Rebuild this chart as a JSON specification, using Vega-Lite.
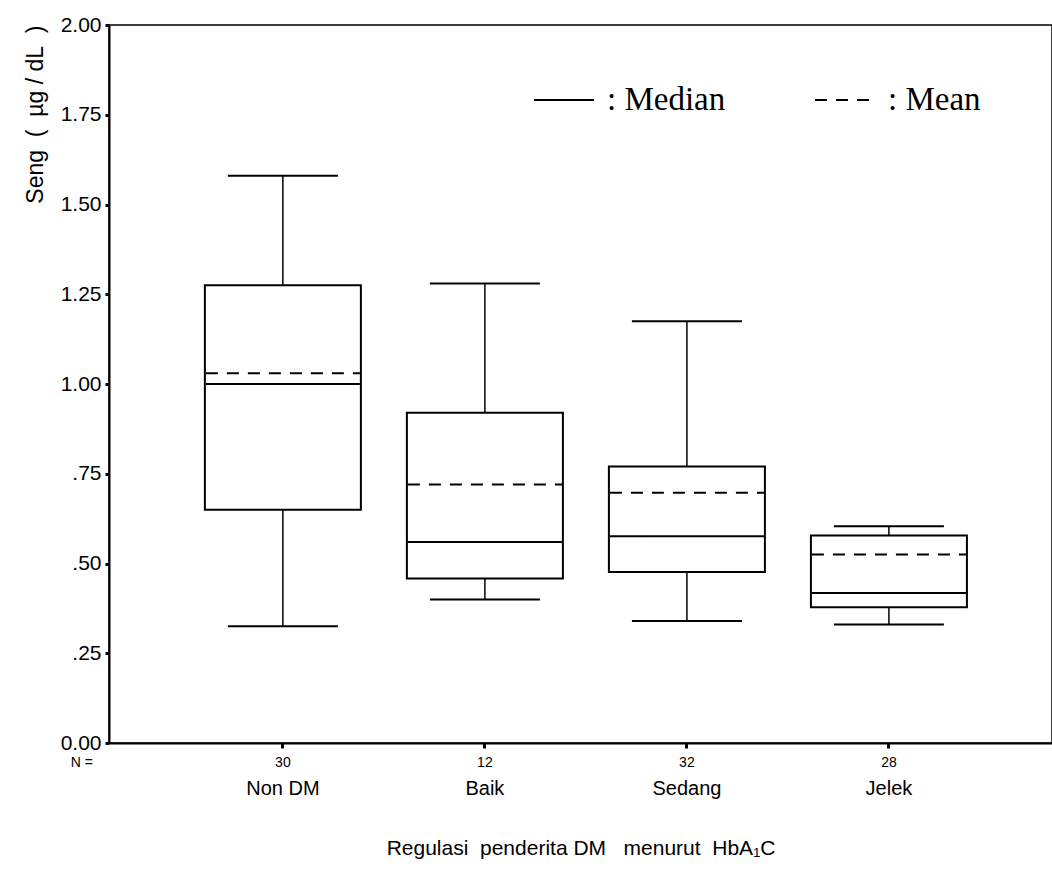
{
  "$schema": "https://vega.github.io/schema/vega-lite/v6.json",
  "autosize": {"type": "none"},
  "padding": {"left": 109, "top": 25, "right": 0, "bottom": 135},
  "width": 943,
  "height": 718,
  "background": "white",
  "config": {
    "view": {"stroke": "black", "strokeWidth": 1.5},
    "font": "Liberation Sans"
  },
  "datasets": {
    "boxes": [
      {"g": "Non DM", "n": "30", "min": 0.325, "q1": 0.65, "median": 1.0, "mean": 1.03, "q3": 1.275, "max": 1.58},
      {"g": "Baik", "n": "12", "min": 0.4, "q1": 0.458, "median": 0.56, "mean": 0.72, "q3": 0.92, "max": 1.28},
      {"g": "Sedang", "n": "32", "min": 0.34, "q1": 0.476, "median": 0.576, "mean": 0.697, "q3": 0.77, "max": 1.175},
      {"g": "Jelek", "n": "28", "min": 0.33, "q1": 0.378, "median": 0.418, "mean": 0.525, "q3": 0.578, "max": 0.604}
    ]
  },
  "data": {"name": "boxes"},
  "encoding": {
    "x": {
      "field": "g",
      "type": "nominal",
      "sort": ["Non DM", "Baik", "Sedang", "Jelek"],
      "scale": {"type": "band", "domain": ["Non DM", "Baik", "Sedang", "Jelek"], "paddingInner": 0, "paddingOuter": 0.334, "align": 0.54},
      "axis": {
        "title": "Regulasi\u00a0 penderita DM \u00a0 menurut\u00a0 HbA\u2081C",
        "titleFont": "Liberation Sans",
        "titleFontSize": 21,
        "titleFontWeight": "normal",
        "titleColor": "black",
        "titlePadding": 39,
        "labelAngle": 0,
        "labelFont": "Liberation Sans",
        "labelFontSize": 20,
        "labelColor": "black",
        "labelPadding": 30,
        "tickColor": "black",
        "tickSize": 5,
        "tickWidth": 3,
        "domainColor": "black",
        "domainWidth": 2,
        "grid": false
      }
    }
  },
  "layer": [
    {
      "mark": {"type": "rule", "color": "black", "strokeWidth": 1.5},
      "encoding": {
        "y": {
          "field": "min",
          "type": "quantitative",
          "scale": {"domain": [0, 2], "nice": false, "zero": true},
          "axis": {
            "title": "Seng\u00a0 (\u00a0 \u00b5g / dL\u00a0 )",
            "titleFont": "Liberation Sans",
            "titleFontSize": 23,
            "titleFontWeight": "normal",
            "titleColor": "black",
            "titleAnchor": "end",
            "titlePadding": 13,
            "values": [0, 0.25, 0.5, 0.75, 1, 1.25, 1.5, 1.75, 2],
            "labelExpr": "datum.value >= 1 || datum.value == 0 ? format(datum.value, '.2f') : replace(format(datum.value, '.2f'), '0.', '.')",
            "labelFont": "Liberation Sans",
            "labelFontSize": 21,
            "labelColor": "black",
            "labelPadding": 4,
            "tickColor": "black",
            "tickSize": 4,
            "tickWidth": 3,
            "domainColor": "black",
            "domainWidth": 2,
            "grid": false
          }
        },
        "y2": {"field": "max"}
      }
    },
    {
      "mark": {"type": "rule", "color": "black", "strokeWidth": 2, "xOffset": -55, "x2Offset": 55},
      "encoding": {"x2": {"field": "g"}, "y": {"field": "min", "type": "quantitative"}}
    },
    {
      "mark": {"type": "rule", "color": "black", "strokeWidth": 2, "xOffset": -55, "x2Offset": 55},
      "encoding": {"x2": {"field": "g"}, "y": {"field": "max", "type": "quantitative"}}
    },
    {
      "mark": {"type": "bar", "size": 156, "fill": "white", "stroke": "black", "strokeWidth": 2},
      "encoding": {"y": {"field": "q1", "type": "quantitative"}, "y2": {"field": "q3"}}
    },
    {
      "transform": [{"fold": ["median", "mean"], "as": ["stat", "v"]}],
      "mark": {"type": "rule", "color": "black", "strokeWidth": 2, "xOffset": -77, "x2Offset": 77},
      "encoding": {
        "x2": {"field": "g"},
        "y": {"field": "v", "type": "quantitative"},
        "strokeDash": {
          "field": "stat",
          "type": "nominal",
          "scale": {"domain": ["median", "mean"], "range": [[1, 0], [12, 9]]},
          "legend": {
            "title": null,
            "orient": "none",
            "legendX": 424,
            "legendY": 44,
            "direction": "horizontal",
            "padding": 0,
            "symbolType": "stroke",
            "symbolSize": 3600,
            "symbolStrokeWidth": 1.8,
            "symbolStrokeColor": "black",
            "labelExpr": "datum.label == 'median' ? ': Median' : ': Mean'",
            "labelFont": "Liberation Serif",
            "labelFontSize": 33,
            "labelColor": "black",
            "labelOffset": 12,
            "columnPadding": 85
          }
        }
      }
    },
    {
      "mark": {"type": "text", "fontSize": 14, "font": "Liberation Sans", "color": "black", "dy": 20, "baseline": "middle"},
      "encoding": {"y": {"datum": 0}, "text": {"field": "n"}}
    },
    {
      "data": {"values": [{"t": "N ="}]},
      "mark": {"type": "text", "fontSize": 14, "font": "Liberation Sans", "color": "black", "dy": 20, "dx": -201, "baseline": "middle"},
      "encoding": {"x": {"datum": "Non DM"}, "y": {"datum": 0}, "text": {"field": "t"}}
    }
  ]
}
